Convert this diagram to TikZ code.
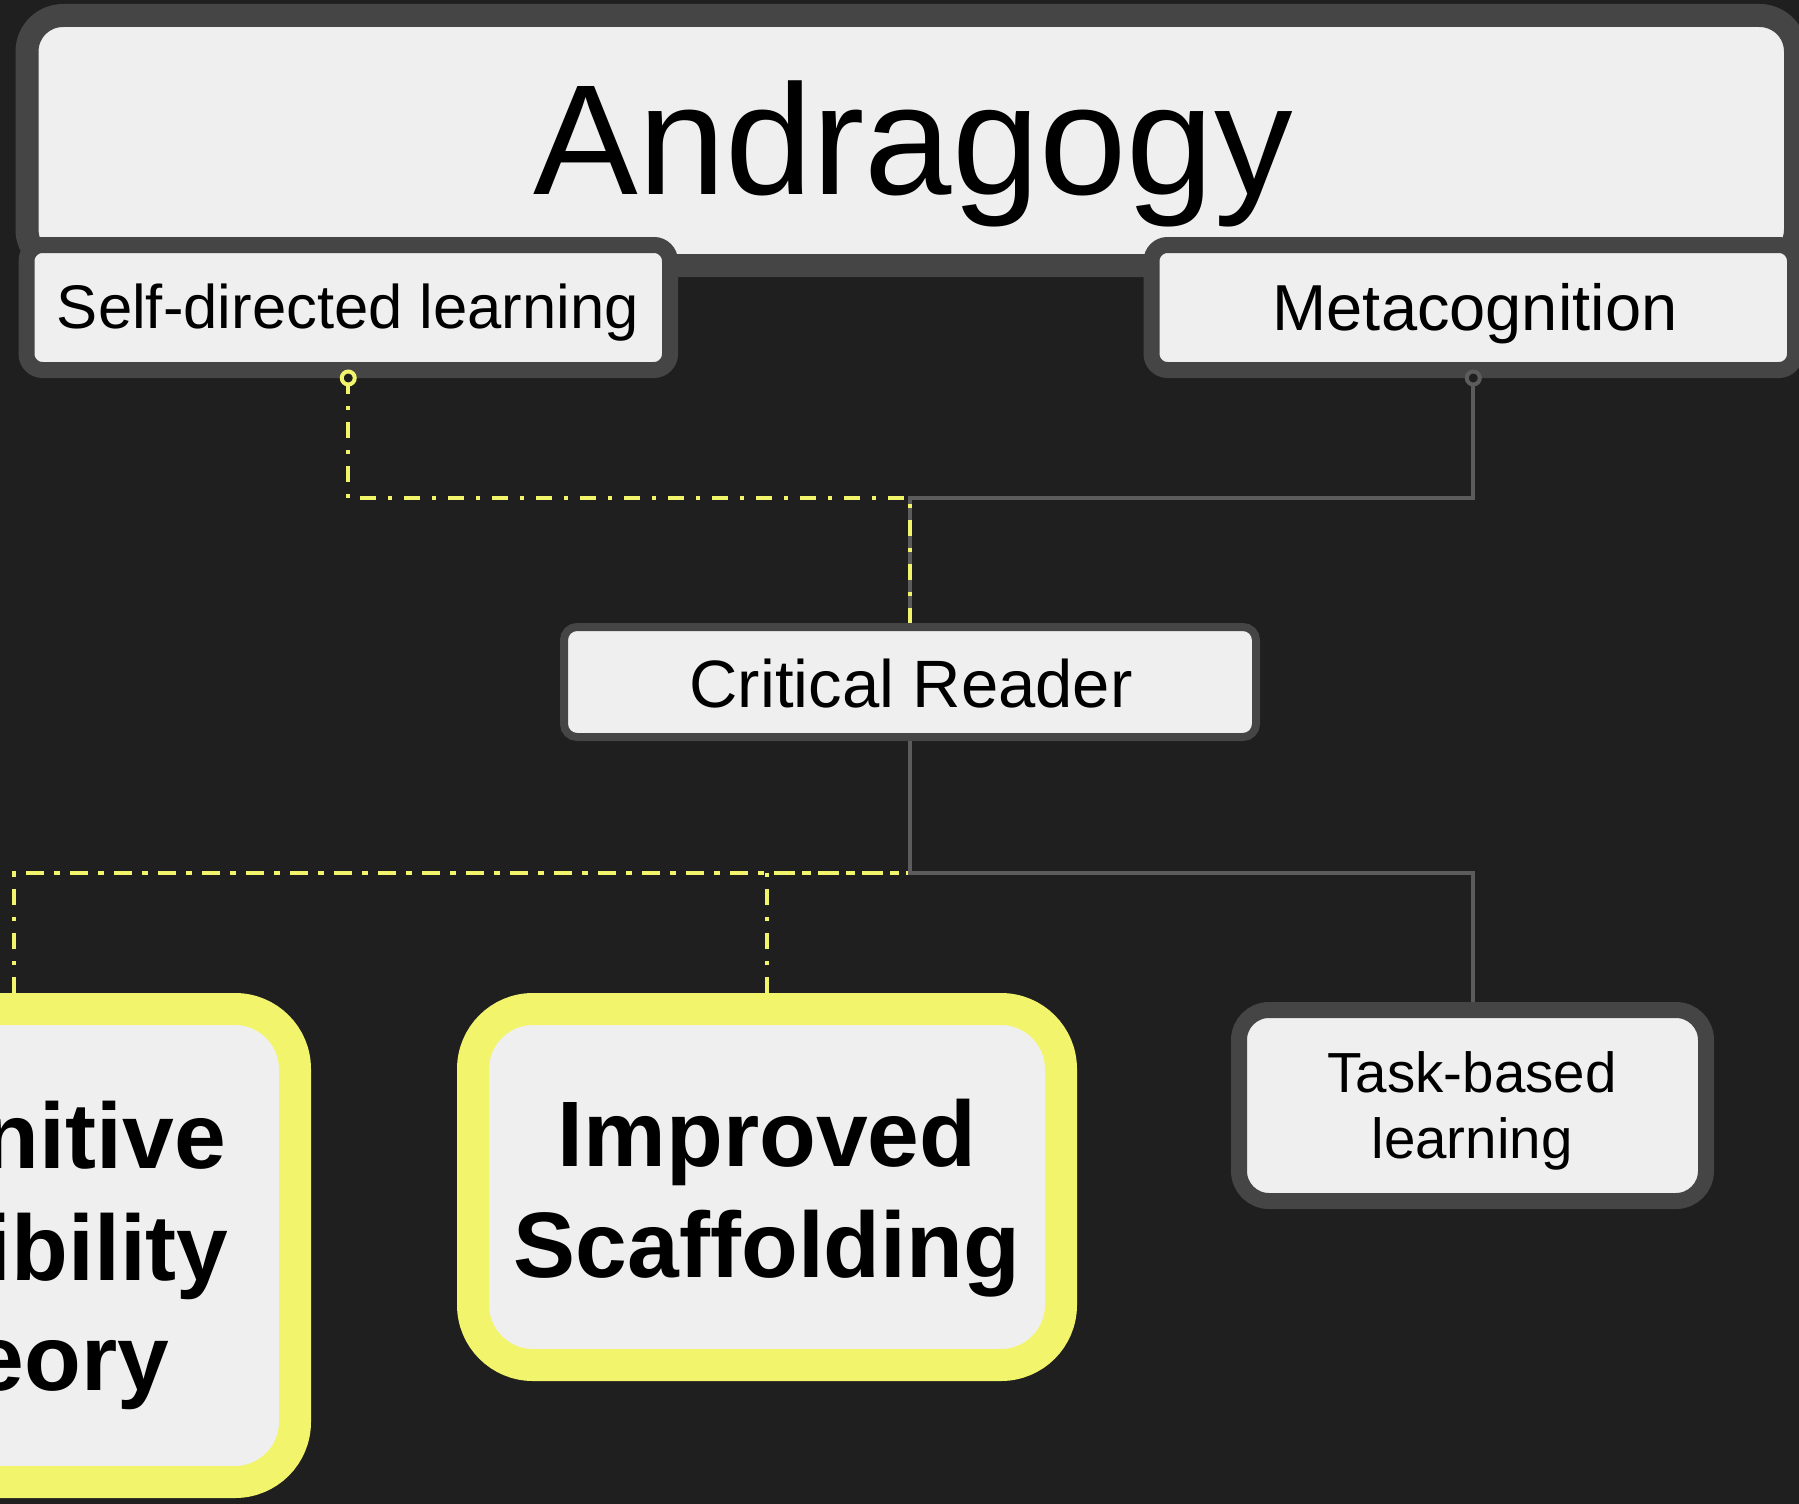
\documentclass[tikz,border=0pt]{standalone}
\usepackage{fontspec}
\setmainfont{Liberation Sans}
\definecolor{bg}{HTML}{1F1F1F}
\definecolor{bord}{HTML}{454545}
\definecolor{boxfill}{HTML}{EFEFEF}
\definecolor{hl}{HTML}{F2F56B}
\definecolor{conn}{HTML}{5C5C5C}
\tikzset{
  boxbase/.style={rectangle, draw=bord, fill=boxfill, inner sep=0pt},
  topbox/.style={boxbase, line width=23pt, rounded corners=36pt},
  subbox/.style={boxbase, line width=16pt, rounded corners=16pt},
  crbox/.style={boxbase, line width=8pt, rounded corners=13pt},
  taskbox/.style={boxbase, line width=16pt, rounded corners=30pt},
  hlbox/.style={boxbase, draw=hl, line width=32pt, rounded corners=60pt},
  lbl/.style={anchor=base, inner sep=0pt, text=black},
  yline/.style={draw=hl, line width=4pt, dash pattern=on 16pt off 12pt on 4pt off 12pt},
  gline/.style={draw=conn, line width=4pt},
  yring/.style={draw=hl, line width=4pt, fill=bg},
  gring/.style={draw=conn, line width=4pt, fill=bg},
}
\begin{document}
\begin{tikzpicture}[x=1pt, y=-1pt]
\useasboundingbox (0,0) rectangle (1799,1504);
\clip (0,0) rectangle (1799,1504);
\fill[bg] (0,0) rectangle (1799,1504);

% boxes
\node[topbox, minimum width=1768.5pt, minimum height=250pt] (an) at (911.25,140.5) {};
\node[subbox, minimum width=643.5pt, minimum height=125pt] (sd) at (348.25,307.5) {};
\node[subbox, minimum width=643.5pt, minimum height=125pt] (mc) at (1473.25,307.5) {};
\node[crbox, minimum width=692pt, minimum height=110pt] (cr) at (910,682) {};
\node[taskbox, minimum width=467pt, minimum height=191pt] (tb) at (1472.5,1105.5) {};
\node[hlbox, minimum width=588pt, minimum height=356pt] (is) at (767,1187) {};
\node[hlbox, minimum width=562pt, minimum height=473pt] (cf) at (14,1245.5) {};

% labels
\node[lbl, font=\fontsize{157pt}{160pt}\selectfont] (anT) at (913,194) {Andragogy};
\node[lbl, font=\fontsize{61.6pt}{66pt}\selectfont] (sdT) at (348,328) {Self-directed learning};
\node[lbl, font=\fontsize{65pt}{66pt}\selectfont] (mcT) at (1475,330) {Metacognition};
\node[lbl, font=\fontsize{67pt}{70pt}\selectfont] (crT) at (911,707) {Critical Reader};
\node[lbl, font=\fontsize{56.5pt}{66pt}\selectfont] (tbT1) at (1472,1092) {Task-based};
\node[lbl, font=\fontsize{56.5pt}{66pt}\selectfont] (tbT2) at (1472,1158) {learning};
\node[lbl, font=\fontsize{93pt}{111pt}\selectfont\bfseries] (isT1) at (767,1166) {Improved};
\node[lbl, font=\fontsize{93pt}{111pt}\selectfont\bfseries] (isT2) at (767,1277) {Scaffolding};
\node[lbl, font=\fontsize{93pt}{111pt}\selectfont\bfseries] (cfT1) at (14,1168) {Cognitive};
\node[lbl, font=\fontsize{93pt}{111pt}\selectfont\bfseries] (cfT2) at (14,1280) {Flexibility};
\node[lbl, font=\fontsize{93pt}{111pt}\selectfont\bfseries] (cfT3) at (14,1390) {Theory};

% junctions
\coordinate (j1) at (910,498);
\coordinate (j2) at (910,873);
\coordinate (offl) at (-60,873);

% upper connectors
\draw[gline] (mc.south) |- (j1) -- (cr.north);
\draw[yline] (sd.south) |- (j1) -- (cr.north);

% lower connectors
\draw[yline] (cf.north) |- (j2) -- (cr.south);
\draw[yline] (is.north) |- (j2) -- (cr.south);
\draw[yline] (offl) -- (j2) -- (cr.south);
\draw[gline] (cr.south) -- (j2) -| (tb.north);

% rings
\draw[yring] (sd.south) circle[radius=6.5pt];
\draw[gring] (mc.south) circle[radius=6.5pt];
\end{tikzpicture}
\end{document}
